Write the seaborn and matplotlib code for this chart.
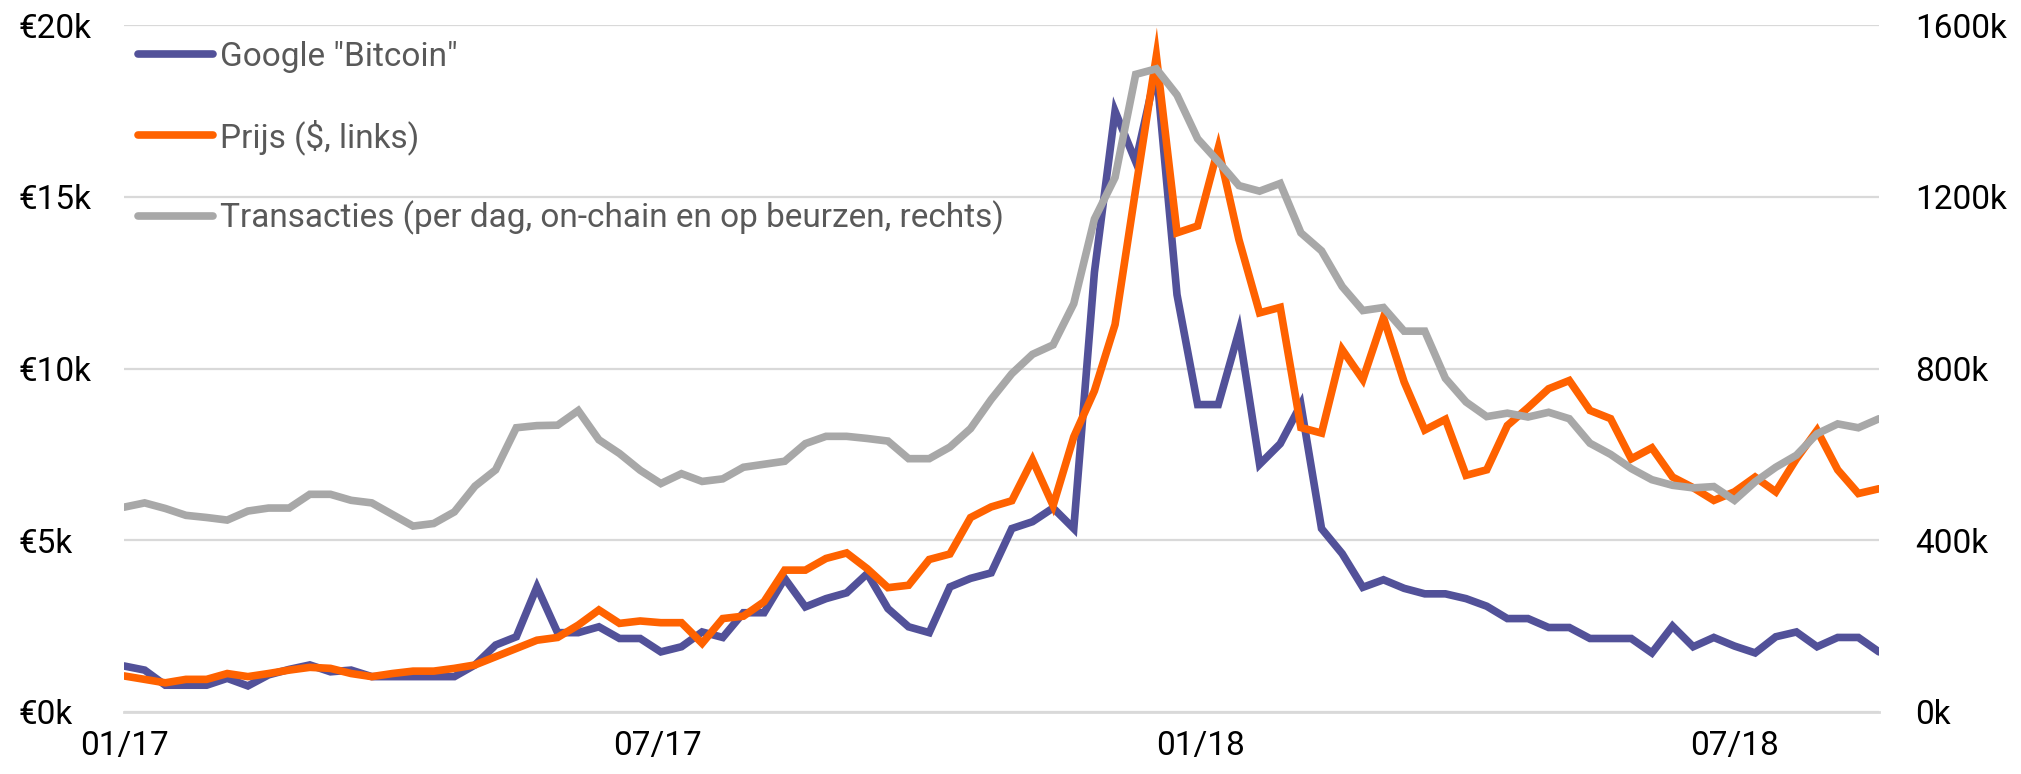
import pandas as pd
import seaborn as sns
import matplotlib.pyplot as plt
from matplotlib.lines import Line2D

# weekly data, 01/2017 - 08/2018
weeks = pd.date_range('2017-01-01', periods=86, freq='7D')

# Google "Bitcoin" (scaled onto the left axis, k€)
google = [1.34, 1.22, 0.78, 0.78, 0.78, 0.98, 0.76, 1.08, 1.24, 1.37,
          1.17, 1.22, 1.03, 1.03, 1.03, 1.03, 1.03, 1.37, 1.95, 2.19,
          3.64, 2.31, 2.31, 2.48, 2.14, 2.14, 1.75, 1.90, 2.33, 2.17,
          2.89, 2.89, 3.89, 3.06, 3.30, 3.47, 4.03, 3.01, 2.48, 2.31,
          3.64, 3.89, 4.05, 5.34, 5.54, 5.94, 5.34, 12.8, 17.49, 16.02,
          18.7, 12.15, 8.95, 8.95, 11.08, 7.21, 7.81, 8.95, 5.34, 4.61,
          3.63, 3.85, 3.60, 3.44, 3.44, 3.30, 3.08, 2.72, 2.72, 2.46,
          2.46, 2.14, 2.14, 2.14, 1.72, 2.50, 1.90, 2.17, 1.92, 1.72,
          2.19, 2.33, 1.90, 2.17, 2.17, 1.75]

# Prijs ($, links), k
prijs = [1.05, 0.95, 0.85, 0.95, 0.95, 1.12, 1.03, 1.12, 1.22, 1.30,
         1.27, 1.12, 1.03, 1.12, 1.19, 1.19, 1.27, 1.37, 1.61, 1.85,
         2.09, 2.17, 2.53, 2.97, 2.58, 2.65, 2.60, 2.60, 2.00, 2.72,
         2.79, 3.21, 4.13, 4.13, 4.47, 4.63, 4.17, 3.62, 3.69, 4.44,
         4.60, 5.66, 5.97, 6.15, 7.34, 6.01, 8.01, 9.35, 11.28, 15.22,
         19.1, 13.95, 14.15, 16.42, 13.75, 11.62, 11.78, 8.28, 8.12, 10.55,
         9.68, 11.48, 9.61, 8.21, 8.52, 6.89, 7.05, 8.34, 8.86, 9.41,
         9.65, 8.78, 8.54, 7.37, 7.69, 6.84, 6.53, 6.16, 6.41, 6.84,
         6.41, 7.37, 8.20, 7.05, 6.36, 6.50]

# Transacties per dag (rechts), k
transacties = [477, 487, 474, 458, 453, 447, 468, 475, 475, 507,
               507, 493, 487, 460, 433, 439, 466, 526, 564, 662,
               667, 668, 702, 634, 602, 563, 532, 555, 537, 543,
               570, 577, 584, 625, 642, 642, 637, 631, 590, 590,
               617, 660, 728, 788, 833, 855, 951, 1148, 1245, 1485,
               1498, 1437, 1335, 1282, 1226, 1213, 1231, 1116, 1074, 991,
               935, 942, 887, 887, 777, 722, 688, 696, 687, 698,
               683, 626, 600, 567, 541, 528, 522, 525, 493, 536,
               570, 598, 648, 671, 662, 683]

labels = ['Google "Bitcoin"', 'Prijs ($, links)',
          'Transacties (per dag, on-chain en op beurzen, rechts)']
colors = ['#525199', '#FF6200', '#A8A8A8']

df = pd.DataFrame({'datum': weeks, 'google': google, 'prijs': prijs,
                   'transacties': transacties})

sns.set_style('white')
plt.rcParams['font.family'] = ['Roboto', 'DejaVu Sans']

W, H = 2021, 774
fig = plt.figure(figsize=(W / 100, H / 100), dpi=100)
ax = fig.add_axes([124 / W, 1 - 712 / H, (1879 - 124) / W, (712 - 25) / H])
ax2 = ax.twinx()

lw = 5.5
sns.lineplot(data=df, x='datum', y='google', ax=ax, color=colors[0],
             linewidth=lw, solid_capstyle='round', solid_joinstyle='miter')
sns.lineplot(data=df, x='datum', y='prijs', ax=ax, color=colors[1],
             linewidth=lw, solid_capstyle='round', solid_joinstyle='miter')
sns.lineplot(data=df, x='datum', y='transacties', ax=ax2, color=colors[2],
             linewidth=lw, solid_capstyle='round', solid_joinstyle='miter')

ax.set_xlim(weeks[0], weeks[-1])
ax.set_ylim(0, 20)
ax2.set_ylim(0, 1600)

ax.set_yticks([0, 5, 10, 15, 20])
ax.set_yticklabels(['€0k', '€5k', '€10k', '€15k', '€20k'])
ax2.set_yticks([0, 400, 800, 1200, 1600])
ax2.set_yticklabels(['0k', '400k', '800k', '1200k', '1600k'])

quarters = pd.to_datetime(['2017-01-01', '2017-04-01', '2017-07-01', '2017-10-01',
                           '2018-01-01', '2018-04-01', '2018-07-01'])
ax.set_xticks(quarters)
ax.set_xticklabels(['01/17', '', '07/17', '', '01/18', '', '07/18'])

ax.set_xlabel('')
ax.set_ylabel('')
ax2.set_ylabel('')

ax.yaxis.grid(True, color='#D9D9D9', linewidth=1.6)
ax.set_axisbelow(True)
ax2.grid(False)

for a in (ax, ax2):
    for s in a.spines.values():
        s.set_visible(False)
ax.spines['bottom'].set_visible(True)
ax.spines['bottom'].set_color('#D9D9D9')
ax.spines['bottom'].set_linewidth(2)

fs = 24
ax.tick_params(axis='y', length=0, pad=76, labelsize=fs, labelcolor='black')
for t in ax.get_yticklabels():
    t.set_horizontalalignment('left')
ax2.tick_params(axis='y', length=0, pad=26, labelsize=fs, labelcolor='black')
ax.tick_params(axis='x', length=8, width=1.6, color='#D9D9D9', pad=5,
               labelsize=fs, labelcolor='black')

handles = [Line2D([0], [0], color=c, linewidth=lw, solid_capstyle='round')
           for c in colors]
fig.legend(handles, labels, loc='upper left',
           bbox_to_anchor=(138 / W, 1 - 41 / H), frameon=False,
           fontsize=fs, labelcolor='#595959', handlelength=2.25,
           handletextpad=0.2, labelspacing=1.38, borderpad=0,
           borderaxespad=0)

fig.savefig('out.png', dpi=100)
